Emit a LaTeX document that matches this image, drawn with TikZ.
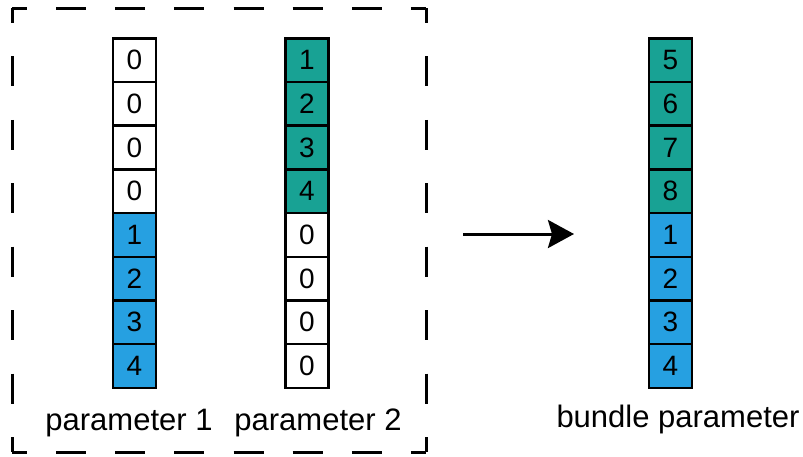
\documentclass[tikz,border=0pt]{standalone}
\usepackage{fontspec}
\setmainfont{Liberation Sans}
\usetikzlibrary{arrows.meta}
\definecolor{tealcell}{RGB}{24,162,148}
\definecolor{bluecell}{RGB}{38,160,225}

\begin{document}
\begin{tikzpicture}[x=1pt,y=-1pt,
  cell/.style={draw=black, line width=2.5pt, minimum width=43pt,
    minimum height=43.7pt, inner sep=0pt, outer sep=0pt,
    font=\fontsize{28}{30}\selectfont},
  zerocell/.style={cell, fill=white},
  tealfill/.style={cell, fill=tealcell},
  bluefill/.style={cell, fill=bluecell},
  caption/.style={font=\fontsize{31}{34}\selectfont, anchor=base, inner sep=0pt},
  groupside/.style={line width=3pt},
]
\useasboundingbox (0,0) rectangle (803,456);

% dashed frame around the two input parameters, one side at a time
\coordinate (fTL) at (12,8);
\coordinate (fTR) at (426,8);
\coordinate (fBR) at (426,452);
\coordinate (fBL) at (12,452);
\draw[groupside, dash pattern=on 30pt off 29.14pt, dash phase=15pt] (fTL) -- (fTR);
\draw[groupside, dash pattern=on 30pt off 29.14pt, dash phase=15pt] (fBL) -- (fBR);
\draw[groupside, dash pattern=on 30pt off 33.43pt, dash phase=15pt] (fTL) -- (fBL);
\draw[groupside, dash pattern=on 30pt off 33.43pt, dash phase=15pt] (fTR) -- (fBR);

% parameter 1: four zeros then 1..4
\foreach \v/\s [count=\i from 0] in {0/zerocell,0/zerocell,0/zerocell,0/zerocell,1/bluefill,2/bluefill,3/bluefill,4/bluefill}
  \node[\s] (pa\i) at (134.5, 60.1+43.7*\i) {\v};

% parameter 2: 1..4 then four zeros
\foreach \v/\s [count=\i from 0] in {1/tealfill,2/tealfill,3/tealfill,4/tealfill,0/zerocell,0/zerocell,0/zerocell,0/zerocell}
  \node[\s] (pb\i) at (307, 60.1+43.7*\i) {\v};

% bundled parameter: 5..8 then 1..4
\foreach \v/\s [count=\i from 0] in {5/tealfill,6/tealfill,7/tealfill,8/tealfill,1/bluefill,2/bluefill,3/bluefill,4/bluefill}
  \node[\s] (bu\i) at (670.5, 60.1+43.7*\i) {\v};

% captions
\node[caption] (capa) at (129,430) {parameter 1};
\node[caption] (capb) at (318,430) {parameter 2};
\node[caption] (capc) at (678,427) {bundle parameter};

% bundling arrow
\coordinate (arrtail) at (463,234);
\coordinate (arrtip) at (574,234);
\draw[line width=3pt, -{Stealth[length=26pt, width=28pt, inset=4pt]}] (arrtail) -- (arrtip);
\end{tikzpicture}
\end{document}
